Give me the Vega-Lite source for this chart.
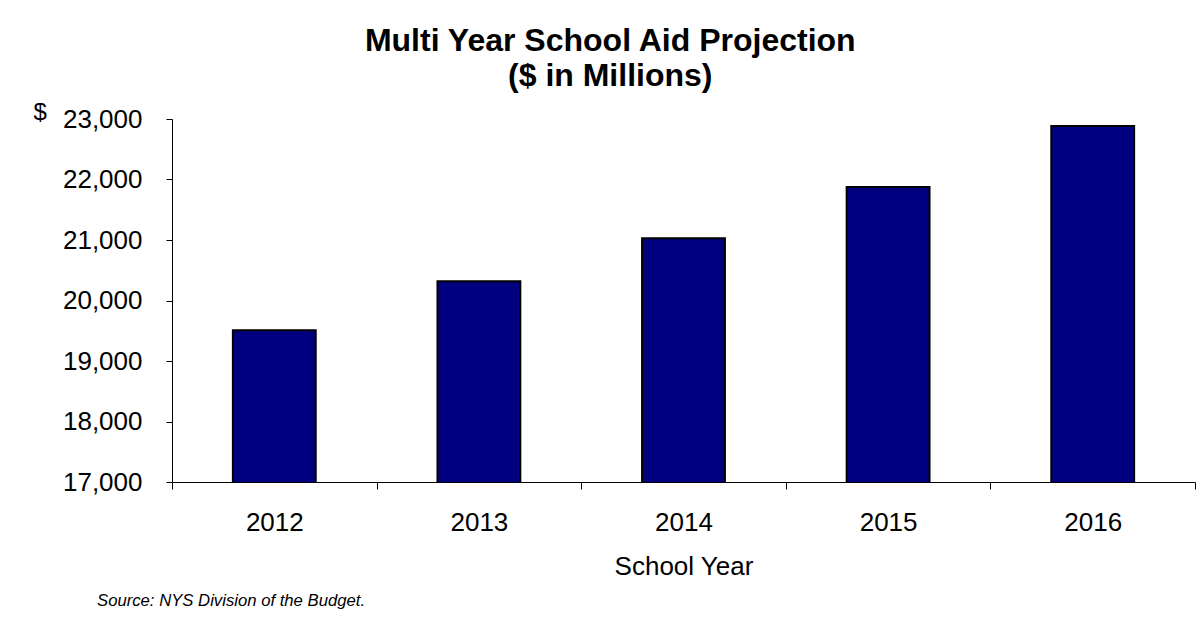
{
  "$schema": "https://vega.github.io/schema/vega-lite/v6.json",
  "background": "white",
  "padding": {"left": 33, "top": 25, "right": 5, "bottom": 5},
  "config": {"font": "Liberation Sans", "view": {"stroke": null}, "concat": {"spacing": 0}},
  "title": {"text": "Source: NYS Division of the Budget.", "orient": "bottom", "anchor": "start", "frame": "bounds", "fontSize": 16.7, "fontStyle": "italic", "fontWeight": "normal", "color": "#000", "dx": 64, "offset": 14},
  "vconcat": [
    {
      "width": 1023,
      "height": 363,
      "title": {"text": ["Multi Year School Aid Projection", "($ in Millions)"], "anchor": "middle", "frame": "bounds", "fontSize": 32, "fontWeight": "bold", "lineHeight": 35, "color": "#000", "offset": 7, "dx": -4},
      "data": {"values": [
        {"year": "2012", "aid": 19510},
        {"year": "2013", "aid": 20320},
        {"year": "2014", "aid": 21030},
        {"year": "2015", "aid": 21875},
        {"year": "2016", "aid": 22885}
      ]},
      "mark": {"type": "bar", "color": "#000080", "stroke": "#000000", "strokeWidth": 2, "width": {"band": 0.405}, "clip": true},
      "encoding": {
        "x": {
          "field": "year", "type": "ordinal",
          "scale": {"paddingInner": 0, "paddingOuter": 0},
          "axis": {"title": "School Year", "labelAngle": 0, "tickBand": "extent", "domainColor": "#000", "tickColor": "#000", "tickSize": 7, "labelFontSize": 26, "labelColor": "#000", "labelPadding": 20, "titleFontSize": 26, "titleFontWeight": "normal", "titleColor": "#000", "titlePadding": 18}
        },
        "y": {
          "field": "aid", "type": "quantitative",
          "scale": {"domain": [17000, 23000], "nice": false, "zero": false},
          "axis": {"values": [17000, 18000, 19000, 20000, 21000, 22000, 23000], "labelExpr": "format(datum.value, ',.0f')", "grid": false, "title": "$", "titleAngle": 0, "titleX": -139, "titleY": 0, "titleAlign": "left", "titleBaseline": "alphabetic", "titleFontSize": 24, "titleFontWeight": "normal", "titleColor": "#000", "labelFontSize": 26, "labelColor": "#000", "labelPadding": 24, "tickSize": 6, "domainColor": "#000", "tickColor": "#000"}
        }
      }
    }
  ]
}
